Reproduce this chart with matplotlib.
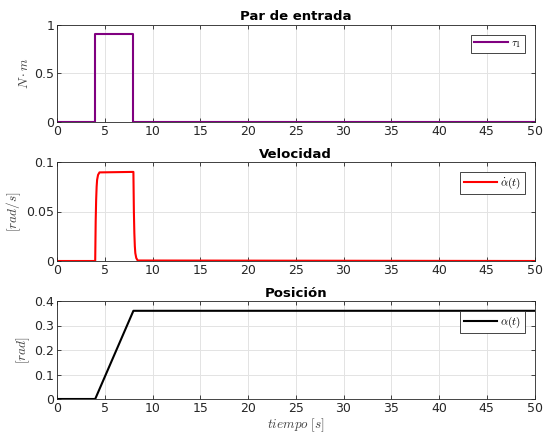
import numpy as np
import matplotlib.pyplot as plt

# Par de entrada (escalon entre 4 y 8 s)
t_par = [0, 4, 4, 8, 8, 50]
par = [0, 0, 0.9, 0.9, 0, 0]

# Velocidad angular (respuesta rapida al par)
t_vel = [0, 4.0, 4.05, 4.1, 4.15, 4.2, 4.3, 4.45, 8.0, 8.05, 8.1, 8.15, 8.2, 8.3, 8.45, 50]
vel = [0, 0, 0.04, 0.062, 0.075, 0.082, 0.087, 0.0895, 0.09, 0.05, 0.028, 0.015, 0.008, 0.003, 0.0005, 0]

# Posicion angular
t_pos = [0, 4, 8, 50]
pos = [0, 0, 0.36, 0.36]

plt.rcParams['mathtext.fontset'] = 'cm'
plt.rcParams['font.family'] = 'DejaVu Sans'

fig = plt.figure(figsize=(5.43, 4.33), dpi=100)
W, H = 543, 433
cajas = [(24.5, 122), (162, 261), (301, 399)]
left, right = 57, 534.5

series = [
    (t_par, par, '#800080', r'$\tau_1$', 'Par de entrada', r'$N \cdot m$', [0, 0.5, 1], ['0', '0.5', '1'], (0, 1)),
    (t_vel, vel, '#ff0000', r'$\dot{\alpha}(t)$', 'Velocidad', r'$[rad/s]$', [0, 0.05, 0.1], ['0', '0.05', '0.1'], (0, 0.1)),
    (t_pos, pos, '#000000', r'$\alpha(t)$', 'Posición', r'$[rad]$', [0, 0.1, 0.2, 0.3, 0.4], ['0', '0.1', '0.2', '0.3', '0.4'], (0, 0.4)),
]

for (top, bot), (tx, ty, color, etiqueta, titulo, ylab, yt, ytl, ylim) in zip(cajas, series):
    ax = fig.add_axes([left / W, 1 - bot / H, (right - left) / W, (bot - top) / H])
    ax.plot(tx, ty, color=color, lw=1.5, label=etiqueta)
    ax.set_xlim(0, 50)
    ax.set_ylim(*ylim)
    ax.set_xticks(np.arange(0, 51, 5))
    ax.set_yticks(yt)
    ax.set_yticklabels(ytl)
    ax.grid(True, color='#e3e3e3', lw=0.7)
    ax.set_axisbelow(True)
    ax.tick_params(direction='in', length=3, width=0.6, top=True, right=True,
                   labelsize=9, colors='#262626', pad=2)
    for sp in ax.spines.values():
        sp.set_color('#262626')
        sp.set_linewidth(0.6)
    ax.set_title(titulo, fontsize=9.5, fontweight='bold', pad=3)
    ax.set_ylabel(ylab, fontsize=9.5, color='#404040', labelpad=2)
    leg = ax.legend(loc='upper right', fontsize=8, fancybox=False, framealpha=1,
                    edgecolor='#262626', borderpad=0.3, handlelength=3.0,
                    handletextpad=0.3, borderaxespad=0.9)
    leg.get_frame().set_linewidth(0.6)
    if titulo == 'Posición':
        ax.set_xlabel(r'$tiempo\ [s]$', fontsize=9.5, color='#404040', labelpad=1)

fig.savefig('out.png', dpi=100)
